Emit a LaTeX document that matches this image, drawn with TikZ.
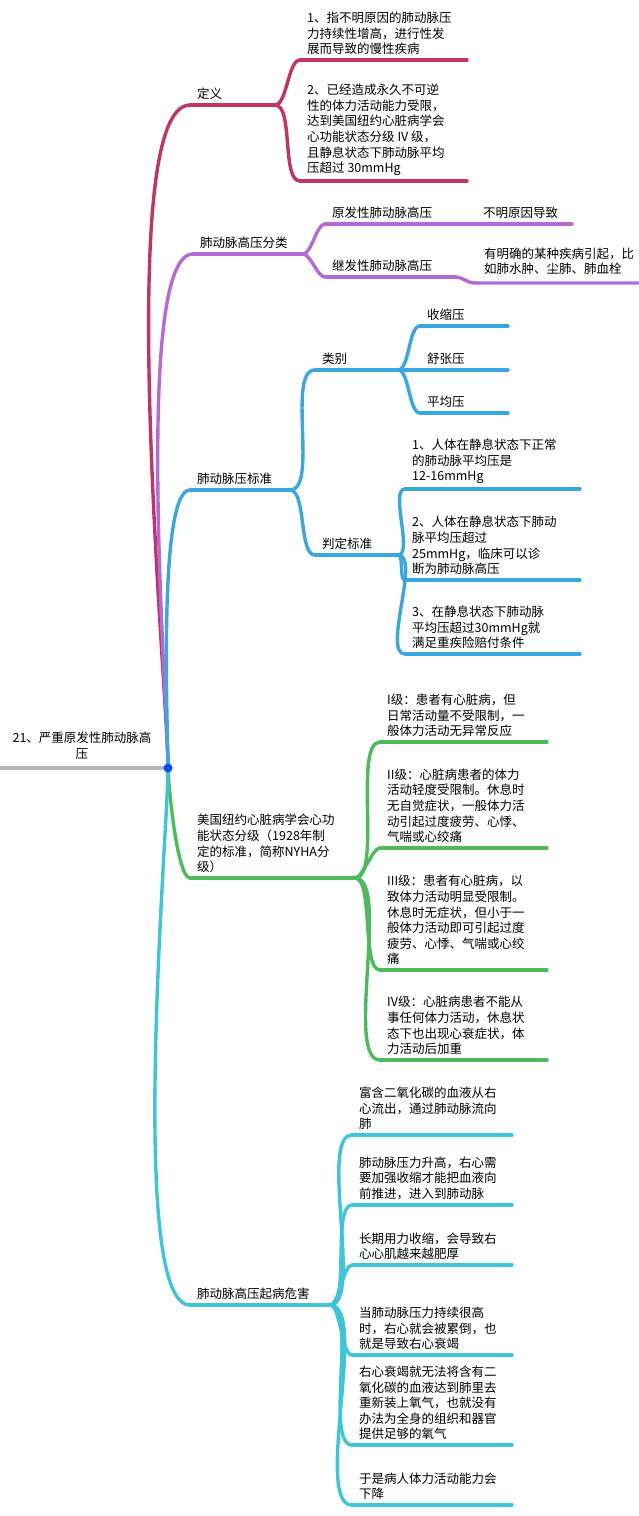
\documentclass[tikz,border=0pt]{standalone}
\usepackage{fontspec}
\setmainfont{Noto Sans CJK SC}
\definecolor{cDef}{HTML}{C2336A}
\definecolor{cCls}{HTML}{B46AD6}
\definecolor{cStd}{HTML}{3AA8E0}
\definecolor{cNy}{HTML}{4CBB5C}
\definecolor{cHarm}{HTML}{3CC6D8}
\tikzset{
  lbl/.style={anchor=south west,align=left,inner sep=0pt,font=\fontsize{12.5}{15.6}\selectfont},
  uline/.style={line width=3.4pt,line cap=round},
  link/.style={line width=3.4pt}
}
% \leaf{colour}{name}{x start}{x end}{y line}{text}
\newcommand{\leaf}[6]{%
  \coordinate (#2-s) at (#3,#5);
  \coordinate (#2-e) at (#4,#5);
  \node[lbl] (#2) at (#3+7,#5-5) {#6};
  \draw[uline,#1] (#2-s) -- (#2-e);
}
\begin{document}
\begin{tikzpicture}[x=1pt,y=-1pt]
\useasboundingbox (0,0) rectangle (638,1516);

%root
\node[font=\fontsize{12.5}{15.6}\selectfont,align=center] (title) at (82,746) {21、严重原发性肺动脉高\\压};
\coordinate (root) at (168,768);
\coordinate (rootl) at (0,768);
\draw[line width=3.4pt,gray!55] (rootl) -- (root);

%level 1
\leaf{cDef}{def}{190}{275}{105}{定义}
\leaf{cCls}{cls}{193}{303}{254}{肺动脉高压分类}
\leaf{cStd}{std}{190}{290}{490}{肺动脉压标准}
\leaf{cNy}{nyha}{190}{355}{878}{美国纽约心脏病学会心功\\能状态分级（1928年制\\定的标准，简称NYHA分\\级）}
\leaf{cHarm}{harm}{190}{330}{1305}{肺动脉高压起病危害}

\foreach \n/\c in {def/cDef,cls/cCls,std/cStd}
  \draw[link,\c] (root) to[out=90,in=180,looseness=0.3] (\n-s);
\foreach \n/\c in {nyha/cNy,harm/cHarm}
  \draw[link,\c] (root) to[out=-90,in=180,looseness=0.3] (\n-s);
\fill[blue!70!cyan] (root) circle (4.5pt);

%definition
\leaf{cDef}{d1}{300}{467}{60}{1、指不明原因的肺动脉压\\力持续性增高，进行性发\\展而导致的慢性疾病}
\leaf{cDef}{d2}{300}{467}{181}{2、已经造成永久不可逆\\性的体力活动能力受限，\\达到美国纽约心脏病学会\\心功能状态分级 IV 级，\\且静息状态下肺动脉平均\\压超过 30mmHg}
\foreach \k in {d1,d2}
  \draw[link,cDef] (def-e) to[out=0,in=180,looseness=0.6] (\k-s);

%classes
\leaf{cCls}{c1}{325}{572}{224}{原发性肺动脉高压}
\node[lbl] (c1t) at (483,219) {不明原因导致};
\leaf{cCls}{c2}{325}{455}{277}{继发性肺动脉高压}
\coordinate (c2b) at (475,283);
\coordinate (c2c) at (638,283);
\draw[uline,cCls] (c2-e) to[out=0,in=180] (c2b) -- (c2c);
\node[lbl] (c2t) at (484,275) {有明确的某种疾病引起，比\\如肺水肿、尘肺、肺血栓};
\foreach \k in {c1,c2}
  \draw[link,cCls] (cls-e) to[out=0,in=180,looseness=0.6] (\k-s);

%standard
\leaf{cStd}{kind}{315}{398}{370}{类别}
\leaf{cStd}{judge}{315}{398}{555}{判定标准}
\foreach \k in {kind,judge}
  \draw[link,cStd] (std-e) to[out=0,in=180,looseness=0.6] (\k-s);
\leaf{cStd}{k1}{420}{508}{326}{收缩压}
\leaf{cStd}{k2}{420}{508}{370}{舒张压}
\leaf{cStd}{k3}{420}{508}{413}{平均压}
\foreach \k in {k1,k2,k3}
  \draw[link,cStd] (kind-e) to[out=0,in=180,looseness=0.6] (\k-s);
\leaf{cStd}{j1}{405}{580}{489}{1、人体在静息状态下正常\\的肺动脉平均压是\\12-16mmHg}
\leaf{cStd}{j2}{405}{580}{580}{2、人体在静息状态下肺动\\脉平均压超过\\25mmHg，临床可以诊\\断为肺动脉高压}
\leaf{cStd}{j3}{405}{580}{654}{3、在静息状态下肺动脉\\平均压超过30mmHg就\\满足重疾险赔付条件}
\foreach \k in {j1,j2,j3}
  \draw[link,cStd] (judge-e) to[out=0,in=180,looseness=0.6] (\k-s);

%NYHA
\leaf{cNy}{g1}{380}{547}{742}{I级：患者有心脏病，但\\日常活动量不受限制，一\\般体力活动无异常反应}
\leaf{cNy}{g2}{380}{547}{848}{II级：心脏病患者的体力\\活动轻度受限制。休息时\\无自觉症状，一般体力活\\动引起过度疲劳、心悸、\\气喘或心绞痛}
\leaf{cNy}{g3}{380}{547}{970}{III级：患者有心脏病，以\\致体力活动明显受限制。\\休息时无症状，但小于一\\般体力活动即可引起过度\\疲劳、心悸、气喘或心绞\\痛}
\leaf{cNy}{g4}{380}{547}{1060}{IV级：心脏病患者不能从\\事任何体力活动，休息状\\态下也出现心衰症状，体\\力活动后加重}
\foreach \k in {g1,g2,g3,g4}
  \draw[link,cNy] (nyha-e) to[out=0,in=180,looseness=0.5] (\k-s);

%harm
\leaf{cHarm}{h1}{352}{512}{1135}{富含二氧化碳的血液从右\\心流出，通过肺动脉流向\\肺}
\leaf{cHarm}{h2}{352}{512}{1205}{肺动脉压力升高，右心需\\要加强收缩才能把血液向\\前推进，进入到肺动脉}
\leaf{cHarm}{h3}{352}{512}{1265}{长期用力收缩，会导致右\\心心肌越来越肥厚}
\leaf{cHarm}{h4}{352}{512}{1355}{当肺动脉压力持续很高\\时，右心就会被累倒，也\\就是导致右心衰竭}
\leaf{cHarm}{h5}{352}{512}{1445}{右心衰竭就无法将含有二\\氧化碳的血液达到肺里去\\重新装上氧气，也就没有\\办法为全身的组织和器官\\提供足够的氧气}
\leaf{cHarm}{h6}{352}{512}{1505}{于是病人体力活动能力会\\下降}
\foreach \k in {h1,h2,h3,h4,h5,h6}
  \draw[link,cHarm] (harm-e) to[out=0,in=180,looseness=0.5] (\k-s);
\end{tikzpicture}
\end{document}
